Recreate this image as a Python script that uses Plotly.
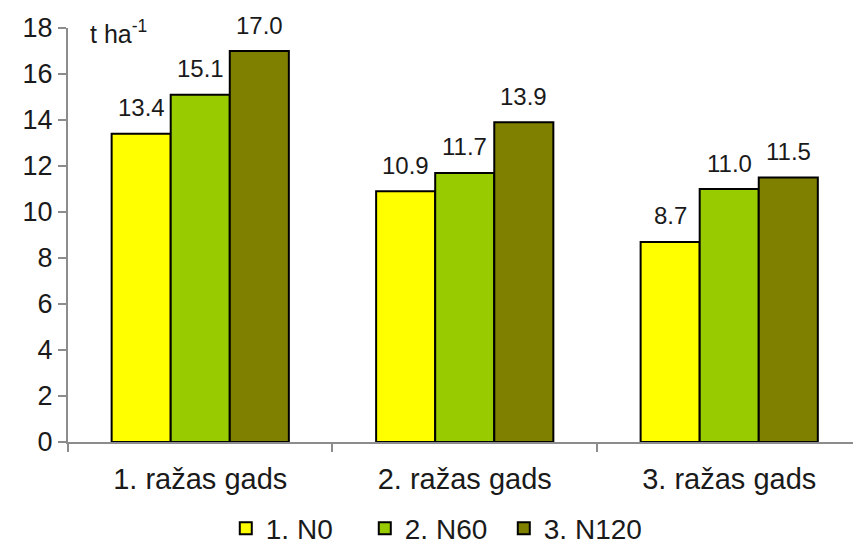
import plotly.graph_objects as go

# Yield by harvest year and nitrogen rate, t/ha
years = ["1. ražas gads", "2. ražas gads", "3. ražas gads"]
series_names = ["1. N0", "2. N60", "3. N120"]
n0 = [13.4, 10.9, 8.7]
n60 = [15.1, 11.7, 11.0]
n120 = [17.0, 13.9, 11.5]
y_ticks = [0, 2, 4, 6, 8, 10, 12, 14, 16, 18]

colors = ["#FFFF00", "#99CC00", "#808000"]
FONT = "Liberation Sans, Arial, sans-serif"
TEXT = "#1a1a1a"

BARGAP = 0.33
X_RANGE = [-0.5, 2.468]
PLOT_W = 853 - 68
cat_px = PLOT_W / (X_RANGE[1] - X_RANGE[0])
bar_px = cat_px * (1 - BARGAP) / 3

fig = go.Figure()
annotations = []
for i, (name, vals, col) in enumerate(zip(series_names, [n0, n60, n120], colors)):
    fig.add_trace(go.Bar(
        x=years, y=vals, name=name,
        marker=dict(color=col, line=dict(color="black", width=2)),
    ))
    # value labels above each bar
    for yr, v in zip(years, vals):
        annotations.append(dict(
            x=yr, y=v, xref="x", yref="y", text=f"{v:.1f}",
            xshift=(i - 1) * bar_px, yshift=26,
            xanchor="center", yanchor="middle", showarrow=False,
            font=dict(size=24, color=TEXT, family=FONT),
        ))

annotations.append(dict(
    text="t ha<sup>-1</sup>", xref="paper", yref="paper",
    x=0.026, y=0.99, xanchor="left", yanchor="middle",
    showarrow=False, font=dict(size=25, color=TEXT, family=FONT),
))

fig.update_layout(
    width=853, height=545,
    margin=dict(l=68, r=0, t=28, b=103),
    paper_bgcolor="white", plot_bgcolor="white",
    barmode="group", bargap=BARGAP, bargroupgap=0,
    font=dict(family=FONT, size=26, color=TEXT),
    showlegend=True,
    legend=dict(
        orientation="h", xref="paper", x=0.201, xanchor="left",
        yref="container", y=0.03, yanchor="middle",
        font=dict(size=28), itemwidth=30, traceorder="normal",
        entrywidth=94, entrywidthmode="pixels",
    ),
    annotations=annotations,
)

fig.update_xaxes(
    type="category", range=X_RANGE, automargin=False,
    showline=True, linecolor="#8c8c8c", linewidth=2,
    ticks="outside", tickson="boundaries", ticklen=8, tickwidth=2, tickcolor="#8c8c8c",
    tickfont=dict(size=29), ticklabelstandoff=10,
    showgrid=False, zeroline=False,
)
fig.update_yaxes(
    range=[0, 18], tickvals=y_ticks, automargin=False,
    showline=True, linecolor="#8c8c8c", linewidth=2,
    ticks="outside", ticklen=8, tickwidth=2, tickcolor="#8c8c8c",
    tickfont=dict(size=27), showgrid=False, zeroline=False,
)

fig.write_html("out.html")
